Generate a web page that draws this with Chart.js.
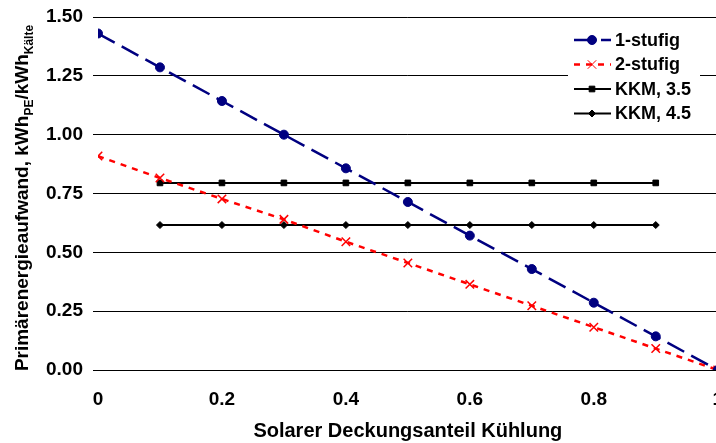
<!DOCTYPE html>
<html>
<head>
<meta charset="utf-8">
<script src="https://cdn.jsdelivr.net/npm/chart.js@4"></script>
<style>
  html, body { margin: 0; padding: 0; background: #fff; overflow: hidden; }
  body { width: 716px; height: 443px; }
  #wrap { width: 733px; height: 443px; position: relative; }
</style>
</head>
<body>
<div id="wrap"><canvas id="chart"></canvas></div>
<script>
// data
const xValues = [0, 0.1, 0.2, 0.3, 0.4, 0.5, 0.6, 0.7, 0.8, 0.9, 1];
const einstufig = [1.43, 1.286, 1.143, 1.0, 0.857, 0.714, 0.571, 0.429, 0.286, 0.143, 0];
const zweistufig = [0.909, 0.816, 0.727, 0.64, 0.545, 0.455, 0.364, 0.273, 0.182, 0.091, 0];
const kkmX = [0.1, 0.2, 0.3, 0.4, 0.5, 0.6, 0.7, 0.8, 0.9];
const kkm35 = [0.795, 0.795, 0.795, 0.795, 0.795, 0.795, 0.795, 0.795, 0.795];
const kkm45 = [0.616, 0.616, 0.616, 0.616, 0.616, 0.616, 0.616, 0.616, 0.616];
const seriesNames = ["1-stufig", "2-stufig", "KKM, 3.5", "KKM, 4.5"];
const xTicks = [0, 0.2, 0.4, 0.6, 0.8, 1];
const yTicks = [0, 0.25, 0.5, 0.75, 1.0, 1.25, 1.5];

const FONT = "'Liberation Sans', Arial, sans-serif";

function toPoints(xs, ys) {
  return xs.map((x, i) => ({ x: x, y: ys[i] }));
}

//legend with line + marker like the original
const legendBox = {
  id: "legendBox",
  afterDraw(chart) {
    const ctx = chart.ctx;
    const left = 568, top = 28, width = 132, height = 98;
    ctx.save();
    ctx.fillStyle = "#fff";
    ctx.fillRect(left, top, width, height);
    chart.data.datasets.forEach((ds, i) => {
      const y = top + 12 + i * 24.5;
      ctx.save();
      ctx.strokeStyle = ds.borderColor;
      ctx.lineWidth = ds.borderWidth;
      ctx.setLineDash(ds.borderDash || []);
      ctx.beginPath();
      ctx.moveTo(574, y);
      ctx.lineTo(611, y);
      ctx.stroke();
      ctx.restore();
      ctx.save();
      ctx.strokeStyle = ds.pointBorderColor;
      ctx.fillStyle = ds.pointBackgroundColor;
      Chart.helpers.drawPoint(ctx, {
        pointStyle: ds.pointStyle,
        radius: ds.pointRadius,
        borderWidth: ds.pointBorderWidth,
        rotation: 0,
      }, 592, y);
      ctx.restore();
      ctx.fillStyle = "#000";
      ctx.font = "bold 18px " + FONT;
      ctx.textBaseline = "middle";
      ctx.fillText(ds.label, 615, y + 1);
    });
    ctx.restore();
  },
};

//y title with subscripts
const yTitle = {
  id: "yTitle",
  afterDraw(chart) {
    const ctx = chart.ctx;
    const parts = [
      ["Primärenergieaufwand, kWh", false],
      ["PE", true],
      ["/kWh", false],
      ["Kälte", true],
    ];
    const mainFont = "bold 19px " + FONT;
    const subFont = "bold 12px " + FONT;
    let total = 0;
    parts.forEach((p) => {
      ctx.font = p[1] ? subFont : mainFont;
      total += ctx.measureText(p[0]).width;
    });
    ctx.save();
    ctx.translate(28, 198);
    ctx.rotate(-Math.PI / 2);
    ctx.fillStyle = "#000";
    ctx.textBaseline = "alphabetic";
    let x = -total / 2;
    parts.forEach((p) => {
      ctx.font = p[1] ? subFont : mainFont;
      ctx.fillText(p[0], x, p[1] ? 5 : 0);
      x += ctx.measureText(p[0]).width;
    });
    ctx.restore();
  },
};

const ctx = document.getElementById("chart").getContext("2d");
new Chart(ctx, {
  type: "scatter",
  data: {
    datasets: [
      {
        label: seriesNames[0],
        data: toPoints(xValues, einstufig),
        showLine: true,
        borderColor: "#000080",
        borderWidth: 2.5,
        borderDash: [19, 8],
        pointStyle: "circle",
        pointRadius: 4.5,
        pointBackgroundColor: "#000080",
        pointBorderColor: "#000080",
        pointBorderWidth: 1,
      },
      {
        label: seriesNames[1],
        data: toPoints(xValues, zweistufig),
        showLine: true,
        borderColor: "#ff0000",
        borderWidth: 2.5,
        borderDash: [6, 6],
        pointStyle: "crossRot",
        pointRadius: 6,
        pointBackgroundColor: "#ff0000",
        pointBorderColor: "#ff0000",
        pointBorderWidth: 1.5,
      },
      {
        label: seriesNames[2],
        data: toPoints(kkmX, kkm35),
        showLine: true,
        borderColor: "#000",
        borderWidth: 2,
        pointStyle: "rect",
        pointRadius: 4,
        pointBackgroundColor: "#000",
        pointBorderColor: "#000",
        pointBorderWidth: 1,
      },
      {
        label: seriesNames[3],
        data: toPoints(kkmX, kkm45),
        showLine: true,
        borderColor: "#000",
        borderWidth: 2,
        pointStyle: "rectRot",
        pointRadius: 3.5,
        pointBackgroundColor: "#000",
        pointBorderColor: "#000",
        pointBorderWidth: 1,
      },
    ],
  },
  options: {
    responsive: true,
    maintainAspectRatio: false,
    animation: false,
    layout: { padding: { left: 28, top: 17, right: 0, bottom: 0 } },
    plugins: {
      legend: { display: false },
      tooltip: { enabled: false },
    },
    scales: {
      x: {
        type: "linear",
        min: 0,
        max: 1,
        afterBuildTicks(scale) {
          scale.ticks = xTicks.map((v) => ({ value: v }));
        },
        afterFit(scale) {
          scale.height = 73;
        },
        grid: { display: false },
        border: { display: true, color: "#000", width: 1 },
        ticks: {
          color: "#000",
          font: { family: FONT, size: 19, weight: "bold" },
          padding: 10,
          maxRotation: 0,
          callback: (v) => String(v),
        },
        title: {
          display: true,
          text: "Solarer Deckungsanteil Kühlung",
          color: "#000",
          font: { family: FONT, size: 20, weight: "bold" },
          padding: { top: 4, bottom: 0 },
        },
      },
      y: {
        min: 0,
        max: 1.5,
        afterBuildTicks(scale) {
          scale.ticks = yTicks.map((v) => ({ value: v }));
        },
        afterFit(scale) {
          scale.width = 70;
          scale.paddingTop = 0;
          scale.paddingBottom = 0;
        },
        grid: {
          color: "#000",
          lineWidth: 1,
          tickLength: 5,
        },
        border: { display: false },
        ticks: {
          color: "#000",
          font: { family: FONT, size: 19, weight: "bold" },
          padding: 10,
          callback: (v) => v.toFixed(2),
        },
      },
    },
  },
  plugins: [legendBox, yTitle],
});
</script>
</body>
</html>
